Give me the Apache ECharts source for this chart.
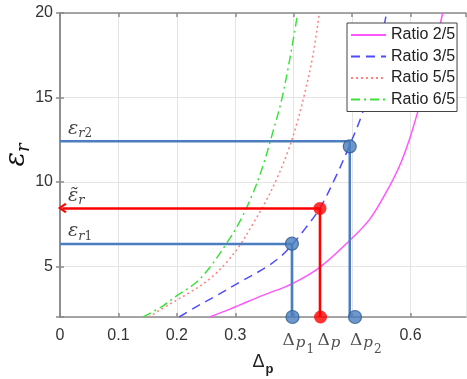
<!DOCTYPE html>
<html>
<head>
<meta charset="utf-8">
<script src="https://cdn.jsdelivr.net/npm/echarts@6/dist/echarts.min.js"></script>
<style>
  html, body { margin: 0; padding: 0; background: #fff; }
  #chart { width: 467px; height: 379px; }
</style>
</head>
<body>
<div id="chart"></div>
<script>
// curves: eps_r against delta p for each ratio
var seriesNames = ['Ratio 2/5', 'Ratio 3/5', 'Ratio 5/5', 'Ratio 6/5'];

var r25x = [0.256, 0.29, 0.307, 0.347, 0.398, 0.444, 0.495, 0.53, 0.558, 0.581, 0.598, 0.612, 0.627, 0.641, 0.655];
var r25y = [2, 2.45, 2.7, 3.28, 3.98, 4.92, 6.5, 7.78, 9.36, 10.93, 12.5, 14.1, 15.9, 17.8, 20];

var r35x = [0.204, 0.233, 0.267, 0.307, 0.353, 0.38, 0.398, 0.42, 0.445, 0.472, 0.495, 0.518, 0.54, 0.559];
var r35y = [2, 2.6, 3.25, 4.05, 4.95, 5.65, 6.3, 7.25, 8.45, 10.3, 12.1, 14.1, 16.8, 20];

var r55x = [0.152, 0.187, 0.222, 0.256, 0.284, 0.307, 0.33, 0.35, 0.37, 0.39, 0.405, 0.42, 0.433, 0.444];
var r55y = [2, 2.75, 3.45, 4.25, 5.2, 6.2, 7.5, 8.7, 10.1, 11.8, 13.4, 15.4, 17.5, 20];

var r65x = [0.142, 0.176, 0.199, 0.233, 0.256, 0.284, 0.307, 0.33, 0.347, 0.364, 0.379, 0.393, 0.407];
var r65y = [2, 2.65, 3.24, 4.04, 4.92, 6.3, 7.6, 9.3, 10.9, 12.9, 14.8, 17.2, 20];

// axis labels that are visible (0.4 and 0.5 are hidden under the annotations)
var xLabelsShown = ['0', '0.1', '0.2', '0.3', '0.6'];
var yLabelsShown = ['5', '10', '15', '20'];

// annotation: eps_r1, eps~_r, eps_r2 and their delta p
var epsLevels = [6.32, 8.45, 12.4];
var dpLevels = [0.397, 0.445, 0.496];
var curveHitY = [6.34, 8.43, 12.1];
var dpFoot = [0.398, 0.446, 0.505];
var epsLabels = ['{e|ε}{s|r}{n|1}', '{e|ε̃}{s|r}', '{e|ε}{s|r}{n|2}'];
var dpLabels = ['{d|Δ}{p|p}{q|1}', '{d|Δ}{p|p}', '{d|Δ}{p|p}{q|2}'];
var dpLabelShift = [-10, -3, -5];

var XMIN = 0, XMAX = 0.695, YMIN = 2, YMAX = 20;
var sans = "'Liberation Sans', Arial, sans-serif";
var serif = "'DejaVu Serif', serif";
var blue = '#4a7ebf', blueDark = '#2f5b94', red = '#ff0000';

function pts(xs, ys) {
    return xs.map(function (x, i) { return [x, ys[i]]; });
}

var curveStyles = [
    { color: '#ff55ff', type: 'solid' },
    { color: '#4d4dff', type: [9, 6] },
    { color: '#ff8080', type: [2, 3] },
    { color: '#3ee03e', type: [9, 4, 2, 4] }
];
var curveData = [pts(r25x, r25y), pts(r35x, r35y), pts(r55x, r55y), pts(r65x, r65y)];

var series = [];
curveData.forEach(function (d, i) {
    series.push({
        name: seriesNames[i],
        type: 'line',
        data: d,
        smooth: 0.35,
        symbol: 'none',
        lineStyle: { color: curveStyles[i].color, width: 1.5, type: curveStyles[i].type },
        itemStyle: { color: curveStyles[i].color },
        z: 2
    });
});

// blue guide lines for eps_r1 and eps_r2
[0, 2].forEach(function (i) {
    series.push({
        type: 'line',
        data: [[XMIN, epsLevels[i]], [dpLevels[i], epsLevels[i]], [dpLevels[i], YMIN]],
        symbol: 'none',
        lineStyle: { color: blue, width: 2.5 },
        z: 3
    });
});

// red guide: vertical line + arrow to the y axis
series.push({
    type: 'line',
    data: [[dpLevels[1], epsLevels[1]], [dpLevels[1], YMIN]],
    symbol: 'none',
    lineStyle: { color: red, width: 2.5 },
    z: 3,
    markLine: {
        silent: true,
        animation: false,
        symbol: ['none', 'path://M0,10 L10,0 L20,10 L17.5,12.5 L10,5 L2.5,12.5 Z'],
        symbolSize: [10, 9],
        lineStyle: { color: red, width: 2.5, type: 'solid' },
        label: { show: false },
        data: [[{ coord: [dpLevels[1], epsLevels[1]] }, { coord: [0.004, epsLevels[1]] }]]
    }
});

// circles on the curve and on the axis
series.push({
    type: 'scatter',
    data: [[dpLevels[0], curveHitY[0]], [dpLevels[2], curveHitY[2]], [dpFoot[0], YMIN], [dpFoot[2], YMIN]],
    symbolSize: 13,
    clip: false,
    itemStyle: { color: blue, borderColor: blueDark, borderWidth: 1.2 },
    z: 5
});
series.push({
    type: 'scatter',
    data: [[dpLevels[1], curveHitY[1]], [dpFoot[1], YMIN]],
    symbolSize: 13,
    clip: false,
    itemStyle: { color: red },
    z: 5
});

var richEps = {
    e: { fontFamily: serif, fontStyle: 'italic', fontSize: 19, lineHeight: 20, color: '#111', verticalAlign: 'top' },
    s: { fontFamily: serif, fontStyle: 'italic', fontSize: 13, lineHeight: 13, color: '#111', padding: [8, 0, 0, 0], verticalAlign: 'top' },
    n: { fontFamily: serif, fontSize: 12, lineHeight: 12, color: '#111', padding: [9, 0, 0, 0], verticalAlign: 'top' }
};
var richDp = {
    d: { fontFamily: serif, fontSize: 17, lineHeight: 18, color: '#222', verticalAlign: 'top' },
    p: { fontFamily: serif, fontStyle: 'italic', fontSize: 15, lineHeight: 15, color: '#222', padding: [4, 0, 0, 1], verticalAlign: 'top' },
    q: { fontFamily: serif, fontSize: 12, lineHeight: 12, color: '#222', padding: [12, 0, 0, 1], verticalAlign: 'top' }
};

// eps labels above the horizontal guides
series.push({
    type: 'scatter',
    data: epsLevels.map(function (v) { return [XMIN, v]; }),
    symbolSize: 0,
    clip: false,
    silent: true,
    label: {
        show: true,
        position: 'top',
        align: 'left',
        distance: 2,
        offset: [8, 0],
        formatter: function (p) { return epsLabels[p.dataIndex]; },
        rich: richEps
    },
    z: 6
});

// delta p labels under the axis
series.push({
    type: 'scatter',
    data: dpFoot.map(function (v, i) {
        return { value: [v, YMIN], label: { offset: [dpLabelShift[i], 0] } };
    }),
    symbolSize: 0,
    clip: false,
    silent: true,
    label: {
        show: true,
        position: 'bottom',
        align: 'left',
        distance: 15,
        formatter: function (p) { return dpLabels[p.dataIndex]; },
        rich: richDp
    },
    z: 6
});

var axisLineStyle = { color: '#8a8a8a', width: 1.5 };
var gridLine = { show: true, lineStyle: { color: '#e4e4e4', width: 1 } };

var option = {
    animation: false,
    backgroundColor: '#fff',
    grid: { left: 60, right: 1, top: 13, bottom: 62, containLabel: false, outerBoundsMode: 'none' },
    legend: {
        data: seriesNames,
        orient: 'vertical',
        left: 347,
        top: 23,
        itemWidth: 35,
        itemHeight: 14,
        itemGap: 5.5,
        padding: [4, 2, 4, 3],
        backgroundColor: '#fff',
        borderColor: '#444',
        borderWidth: 1,
        itemStyle: { opacity: 0 },
        textStyle: { fontFamily: sans, fontSize: 16, color: '#222' }
    },
    xAxis: [{
        type: 'value',
        min: XMIN,
        max: XMAX,
        interval: 0.1,
        name: '{d|Δ}{p|p}',
        nameLocation: 'middle',
        nameGap: 36,
        nameMoveOverlap: false,
        nameTextStyle: {
            rich: {
                d: { fontFamily: sans, fontSize: 18, color: '#222', lineHeight: 22, verticalAlign: 'top' },
                p: { fontFamily: sans, fontWeight: 'bold', fontSize: 13, color: '#222', lineHeight: 13, padding: [10, 0, 0, 1], verticalAlign: 'top' }
            }
        },
        axisLine: { lineStyle: axisLineStyle },
        axisTick: { inside: true, length: 4, lineStyle: axisLineStyle },
        axisLabel: {
            margin: 11,
            fontFamily: sans,
            fontSize: 16,
            color: '#333',
            showMaxLabel: false,
            formatter: function (v) {
                var s = String(Math.round(v * 10) / 10);
                return xLabelsShown.indexOf(s) >= 0 ? s : '';
            }
        },
        splitLine: gridLine
    }, {
        type: 'value',
        position: 'top',
        min: XMIN,
        max: XMAX,
        interval: 0.1,
        axisLine: { show: true, lineStyle: axisLineStyle },
        axisTick: { show: true, inside: true, length: 4, lineStyle: axisLineStyle },
        axisLabel: { show: false },
        splitLine: { show: false }
    }],
    yAxis: [{
        type: 'value',
        min: YMIN,
        max: YMAX,
        splitNumber: 4,
        name: '{e|ε}{s|r}',
        nameLocation: 'middle',
        nameGap: 29,
        nameRotate: 90,
        nameMoveOverlap: false,
        nameTextStyle: {
            rich: {
                e: { fontFamily: serif, fontStyle: 'italic', fontSize: 27, lineHeight: 28, color: '#111', verticalAlign: 'top', padding: [0, 0, 0, 20] },
                s: { fontFamily: serif, fontStyle: 'italic', fontSize: 18, lineHeight: 18, color: '#111', padding: [12, 0, 0, 0], verticalAlign: 'top' }
            }
        },
        axisLine: { show: true, lineStyle: axisLineStyle },
        axisTick: { show: true, inside: true, length: 4, lineStyle: axisLineStyle },
        axisLabel: {
            margin: 7,
            fontFamily: sans,
            fontSize: 16,
            color: '#333',
            formatter: function (v) {
                var s = String(v);
                return yLabelsShown.indexOf(s) >= 0 ? s : '';
            }
        },
        splitLine: gridLine
    }, {
        type: 'value',
        position: 'right',
        min: YMIN,
        max: YMAX,
        splitNumber: 4,
        axisLine: { show: true, lineStyle: axisLineStyle },
        axisTick: { show: true, inside: true, length: 4, lineStyle: axisLineStyle },
        axisLabel: { show: false },
        splitLine: { show: false }
    }],
    series: series
};

var myChart = echarts.init(document.getElementById('chart'));
myChart.setOption(option);
</script>
</body>
</html>
